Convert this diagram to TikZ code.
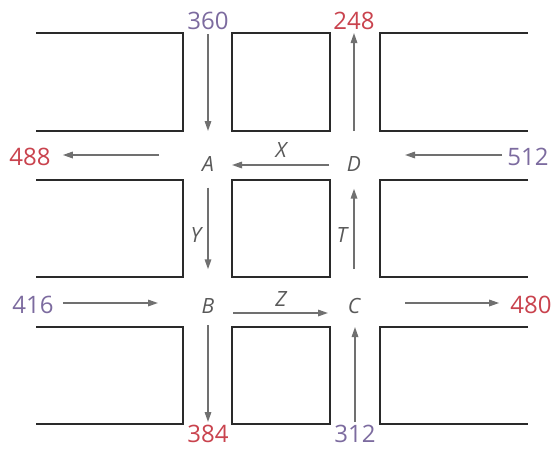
\documentclass[tikz,border=0pt]{standalone}
\usepackage{fontspec}
\setsansfont{Open Sans}
\usetikzlibrary{arrows.meta}
\definecolor{outred}{HTML}{C9434E}
\definecolor{inpurple}{HTML}{7C6B9F}
\definecolor{flowgray}{HTML}{707070}
\definecolor{kerbgray}{HTML}{2A2A2A}
\begin{document}
\begin{tikzpicture}[x=1pt,y=-1pt,
  kerb/.style={draw=kerbgray,line width=2.8pt},
  flow/.style={draw=flowgray,line width=1.6pt,-{Triangle[length=10pt,width=6.5pt]}},
  xing/.style={inner sep=0pt,text=black!65,font=\fontsize{21}{21}\sffamily\itshape},
  vol/.style={inner sep=0pt,font=\fontsize{24}{24}\sffamily},
  volin/.style={vol,text=inpurple},
  volout/.style={vol,text=outred}]%
\useasboundingbox (0,0) rectangle (553,448);
% city blocks
\draw[kerb] (36,33) -- (183,33) -- (183,131) -- (36,131);
\draw[kerb] (232,33) rectangle (330,131);
\draw[kerb] (528,33) -- (380,33) -- (380,131) -- (528,131);
\draw[kerb] (36,180) -- (183,180) -- (183,277) -- (36,277);
\draw[kerb] (232,180) rectangle (330,277);
\draw[kerb] (528,180) -- (380,180) -- (380,277) -- (528,277);
\draw[kerb] (36,327) -- (183,327) -- (183,424) -- (36,424);
\draw[kerb] (232,327) rectangle (330,424);
\draw[kerb] (528,327) -- (380,327) -- (380,424) -- (528,424);
% intersections
\node[xing] (A) at (208,164) {A};
\node[xing] (D) at (354,164) {D};
\node[xing] (B) at (208,306) {B};
\node[xing] (C) at (354,306) {C};
% traffic volumes
\node[volin] (n360) at (208,21) {360};
\node[volout] (n248) at (354,21) {248};
\node[volout] (n488) at (30,157) {488};
\node[volin] (n512) at (528,157) {512};
\node[volin] (n416) at (33,305) {416};
\node[volout] (n480) at (531,305) {480};
\node[volout] (n384) at (208,434) {384};
\node[volin] (n312) at (355,434) {312};
% free ends
\coordinate (a360) at (208,131);
\coordinate (a248) at (354,131);
\coordinate (a488) at (159,155);
\coordinate (a512) at (405,155);
\coordinate (a416) at (158,303);
\coordinate (a480) at (405,303);
\coordinate (a384) at (208,325);
\coordinate (a312) at (355,327);
% flows
\draw[flow,shorten <=4pt] (n360) -- (a360);
\draw[flow,shorten >=3pt] (a248) -- (n248);
\draw[flow,shorten >=12pt] (a488) -- (n488.east |- a488);
\draw[flow,shorten <=5pt] (n512.west |- a512) -- (a512);
\draw[flow,shorten <=9pt] (n416.east |- a416) -- (a416);
\draw[flow,shorten >=11pt] (a480) -- (n480.west |- a480);
\draw[flow,shorten >=3pt] (a384) -- (n384);
\draw[flow,shorten <=3pt] (n312) -- (a312);
\draw[flow,shorten <=25pt,shorten >=24pt] ([yshift=-1pt]D.center) -- node[xing,above=7pt] (X) {X} ([yshift=-1pt]A.center);
\draw[flow,shorten <=16pt,shorten >=29pt] (A) -- node[xing,left=6pt] (Y) {Y} (B);
\draw[flow,shorten <=25pt,shorten >=26pt] ([yshift=-7pt]B.center) -- node[xing,above=6pt] (Z) {Z} ([yshift=-7pt]C.center);
\draw[flow,shorten <=29pt,shorten >=17pt] (C) -- node[xing,left=6pt] (T) {T} (D);
\end{tikzpicture}
\end{document}
